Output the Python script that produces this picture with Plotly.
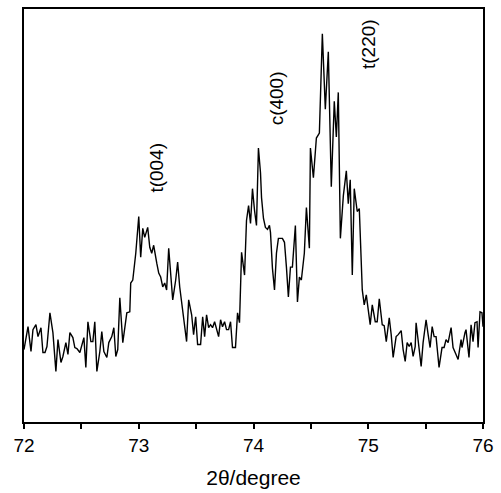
import plotly.graph_objects as go

two_theta = [
    72.000, 72.017, 72.035, 72.061, 72.078, 72.104, 72.122, 72.148, 72.165, 72.183,
    72.200, 72.226, 72.252, 72.278, 72.296, 72.322, 72.339, 72.365, 72.383, 72.400,
    72.426, 72.443, 72.461, 72.487, 72.513, 72.522, 72.539, 72.557, 72.583, 72.600,
    72.617, 72.635, 72.661, 72.678, 72.696, 72.722, 72.739, 72.765, 72.783, 72.800,
    72.817, 72.835, 72.861, 72.878, 72.896, 72.922, 72.930, 72.948, 72.974, 73.000,
    73.017, 73.035, 73.052, 73.078, 73.096, 73.113, 73.130, 73.157, 73.174, 73.191,
    73.209, 73.226, 73.243, 73.261, 73.278, 73.296, 73.322, 73.339, 73.357, 73.374,
    73.400, 73.417, 73.435, 73.461, 73.478, 73.496, 73.513, 73.539, 73.557, 73.574,
    73.591, 73.609, 73.626, 73.643, 73.661, 73.678, 73.696, 73.713, 73.730, 73.748,
    73.765, 73.783, 73.800, 73.817, 73.843, 73.861, 73.878, 73.896, 73.922, 73.939,
    73.957, 73.974, 73.991, 74.009, 74.026, 74.043, 74.061, 74.070, 74.087, 74.104,
    74.122, 74.139, 74.148, 74.165, 74.183, 74.200, 74.217, 74.252, 74.270, 74.287,
    74.304, 74.322, 74.339, 74.365, 74.383, 74.400, 74.417, 74.443, 74.461, 74.487,
    74.496, 74.522, 74.548, 74.574, 74.600, 74.626, 74.652, 74.678, 74.704, 74.722,
    74.739, 74.757, 74.783, 74.809, 74.826, 74.843, 74.861, 74.878, 74.904, 74.922,
    74.939, 74.948, 74.965, 74.983, 75.000, 75.017, 75.035, 75.061, 75.078, 75.096,
    75.122, 75.139, 75.157, 75.183, 75.200, 75.217, 75.243, 75.261, 75.287, 75.304,
    75.322, 75.339, 75.357, 75.374, 75.391, 75.409, 75.417, 75.435, 75.461, 75.478,
    75.504, 75.522, 75.539, 75.557, 75.574, 75.591, 75.617, 75.643, 75.661, 75.678,
    75.696, 75.722, 75.739, 75.765, 75.783, 75.809, 75.817, 75.843, 75.852, 75.878,
    75.896, 75.913, 75.930, 75.948, 75.957, 75.974, 75.991, 76.000,
]

intensity = [
    73, 85, 96, 71, 93, 98, 86, 95, 70, 70,
    76, 110, 90, 51, 83, 60, 66, 80, 68, 90,
    85, 75, 74, 70, 81, 85, 55, 101, 81, 81,
    101, 51, 71, 91, 71, 65, 80, 86, 95, 66,
    73, 125, 80, 95, 110, 111, 140, 143, 170, 207,
    166, 195, 186, 196, 176, 170, 178, 160, 150, 146,
    136, 140, 133, 175, 150, 123, 143, 161, 136, 120,
    98, 81, 123, 108, 88, 106, 78, 78, 106, 86,
    108, 95, 98, 95, 101, 93, 86, 103, 96, 101,
    93, 93, 101, 75, 75, 110, 100, 171, 148, 203,
    218, 200, 235, 213, 198, 276, 251, 226, 205, 196,
    194, 198, 191, 155, 133, 170, 185, 185, 181, 156,
    126, 156, 156, 198, 121, 146, 143, 170, 216, 175,
    276, 246, 286, 291, 391, 315, 373, 237, 323, 287,
    332, 185, 228, 253, 220, 244, 148, 235, 212, 215,
    170, 133, 118, 128, 113, 98, 118, 101, 101, 124,
    98, 97, 81, 105, 88, 65, 86, 88, 92, 73,
    61, 80, 76, 80, 66, 76, 100, 80, 56, 80,
    103, 88, 75, 96, 86, 86, 55, 75, 75, 83,
    80, 95, 75, 68, 63, 83, 75, 90, 93, 65,
    98, 81, 100, 101, 75, 111, 110, 96,
]

peak_labels = ["t(004)", "c(400)", "t(220)"]
peak_x = [73.157, 74.196, 75.0]
peak_y = [256, 326, 381]

x_ticks = [72, 73, 74, 75, 76]

fig = go.Figure()
fig.add_trace(go.Scatter(
    x=two_theta, y=intensity, mode="lines",
    line=dict(color="black", width=1.4),
    showlegend=False, hoverinfo="skip",
))

for lab, px, py in zip(peak_labels, peak_x, peak_y):
    fig.add_annotation(
        x=px, y=py, text=lab, showarrow=False, textangle=-90,
        font=dict(family="Liberation Sans, Arial, sans-serif", size=19, color="black"),
        xanchor="center", yanchor="middle",
    )

fig.update_layout(
    width=501, height=493,
    margin=dict(l=24, r=17, t=7, b=70),
    paper_bgcolor="white", plot_bgcolor="white",
    font=dict(family="Liberation Sans, Arial, sans-serif", color="black"),
    xaxis=dict(
        range=[72, 76], tickvals=x_ticks, ticktext=[str(v) for v in x_ticks],
        ticks="outside", ticklen=5, tickwidth=1.5, tickcolor="black",
        minor=dict(dtick=0.5, ticks="outside", ticklen=5, tickwidth=1.5, tickcolor="black", showgrid=False),
        showline=True, linecolor="black", linewidth=1.5, mirror=True,
        showgrid=False, zeroline=False,
        tickfont=dict(size=19),
        title=dict(text="2θ/degree", font=dict(size=21), standoff=16),
    ),
    yaxis=dict(
        range=[0, 416], showticklabels=False, ticks="",
        showline=True, linecolor="black", linewidth=1.5, mirror=True,
        showgrid=False, zeroline=False,
    ),
)

fig.write_html(
    "out.html",
    config={"displayModeBar": False},
    post_script="document.body.style.margin='0';document.body.style.overflow='hidden';",
)
